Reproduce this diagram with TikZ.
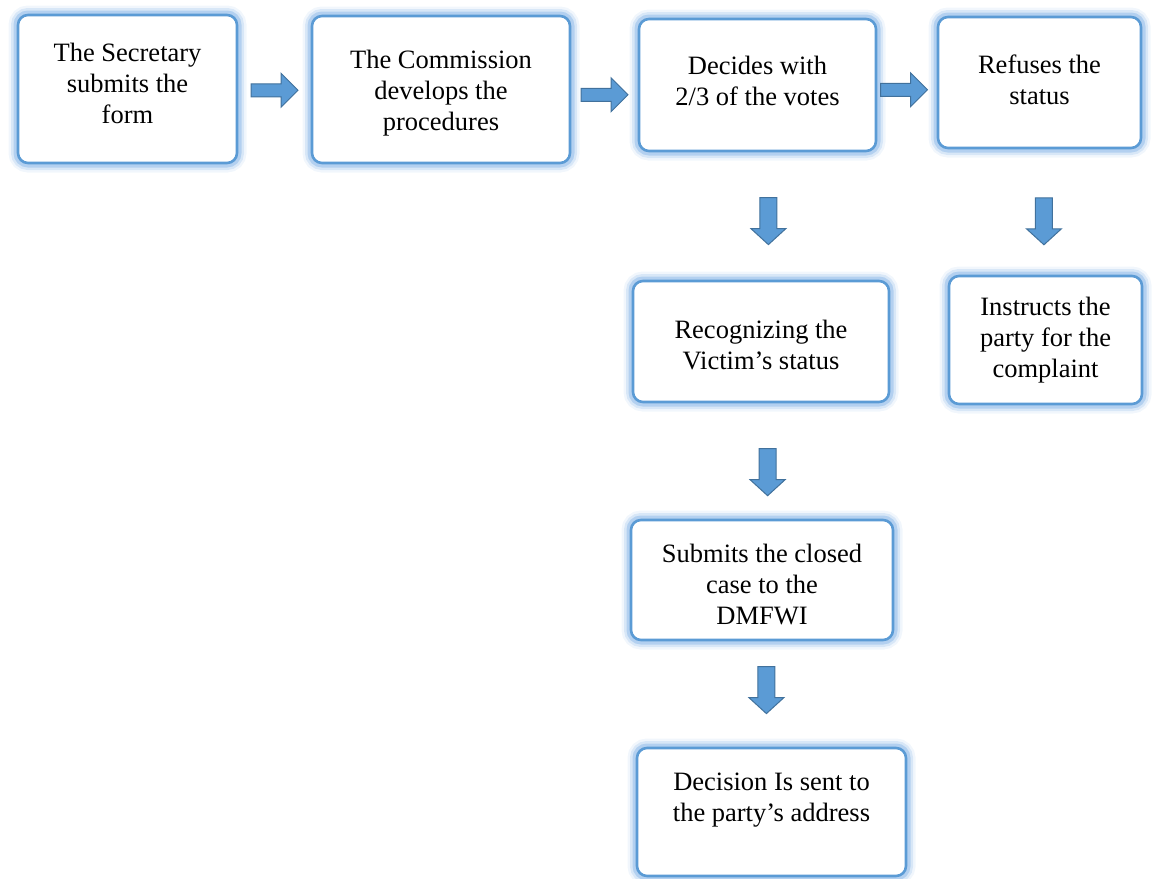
\documentclass[tikz,border=0pt]{standalone}
\usepackage{fontspec}
\setmainfont{Liberation Serif}
\usetikzlibrary{calc}

\definecolor{edgeblue}{HTML}{5B9BD5}
\definecolor{glowblue}{HTML}{8DB9E8}
\definecolor{arrowfill}{HTML}{5B9BD5}
\definecolor{arrowline}{HTML}{41719C}

\tikzset{
  % rounded white box with a soft blue glow round its edge
  stepbox/.style={
    rectangle, rounded corners=10pt, inner sep=0pt,
    fill=white, draw=edgeblue, line width=2.6pt,
    preaction={draw=glowblue, line width=19pt, opacity=0.12},
    preaction={draw=glowblue, line width=14pt, opacity=0.25},
    preaction={draw=glowblue, line width=9pt, opacity=0.5},
  },
  steptext/.style={
    align=center, inner sep=0pt, text=black,
    font=\fontsize{26.5}{31}\selectfont
  },
  blockarrow/.style={fill=arrowfill, draw=arrowline, line width=1pt, line join=miter},
  pics/rightblock/.style={code={
    \path[blockarrow] (-23.5,-6.5) -- (6.5,-6.5) -- (6.5,-17) -- (23.5,0)
      -- (6.5,17) -- (6.5,6.5) -- (-23.5,6.5) -- cycle;}},
  pics/downblock/.style={code={
    \path[blockarrow] (-8.5,-23.5) -- (8.5,-23.5) -- (8.5,7.5) -- (17.5,7.5)
      -- (0,23.5) -- (-17.5,7.5) -- (-8.5,7.5) -- cycle;}},
}

\begin{document}
\begin{tikzpicture}[x=1pt, y=-1pt]
\useasboundingbox (0,0) rectangle (1153,878);

% boxes
\node[stepbox, minimum width=219pt, minimum height=148pt] (b1) at (127.5,89) {};
\node[stepbox, minimum width=258pt, minimum height=147pt] (b2) at (441,89.5) {};
\node[stepbox, minimum width=237pt, minimum height=132pt] (b3) at (757.5,85) {};
\node[stepbox, minimum width=203pt, minimum height=131pt] (b4) at (1039.5,82.5) {};
\node[stepbox, minimum width=256pt, minimum height=121pt] (b5) at (761,341.5) {};
\node[stepbox, minimum width=193pt, minimum height=128pt] (b6) at (1045.5,340) {};
\node[stepbox, minimum width=262pt, minimum height=120pt] (b7) at (762,580) {};
\node[stepbox, minimum width=269pt, minimum height=128pt] (b8) at (771.5,812) {};

% texts
\node[steptext] (t1) at ($(b1.center)+(0,-6)$) {The Secretary\\submits the\\form};
\node[steptext] (t2) at ($(b2.center)+(0,3.5)$) {The Commission\\develops the\\procedures};
\node[steptext] (t3) at ($(b3.center)+(0,-4)$) {Decides with\\2/3 of the votes};
\node[steptext] (t4) at ($(b4.center)+(0,-2.5)$) {Refuses the\\status};
\node[steptext] (t5) at ($(b5.center)+(0,3.5)$) {Recognizing the\\Victim’s status};
\node[steptext] (t6) at ($(b6.center)+(0,0)$) {Instructs the\\party for the\\complaint};
\node[steptext] (t7) at ($(b7.center)+(0,4)$) {Submits the closed\\case to the\\DMFWI};
\node[steptext] (t8) at ($(b8.center)+(0,-12)$) {Decision Is sent to\\the party’s address};

% block arrows between the steps
\pic at ($(b1.east)!0.5!(b2.west)+(0,1)$) {rightblock};
\pic at ($(b2.east)!0.5!(b3.west)+(0,7.5)$) {rightblock};
\pic at ($(b3.east)!0.5!(b4.west)+(-3,6)$) {rightblock};
\pic at ($(b3.south)!0.54!(b5.north)+(9,0)$) {downblock};
\pic at ($(b4.south)!0.574!(b6.north)+(1,0)$) {downblock};
\pic at ($(b5.south)!0.597!(b7.north)+(6,0)$) {downblock};
\pic at ($(b7.south)!0.463!(b8.north)+(0,0)$) {downblock};
\end{tikzpicture}
\end{document}
